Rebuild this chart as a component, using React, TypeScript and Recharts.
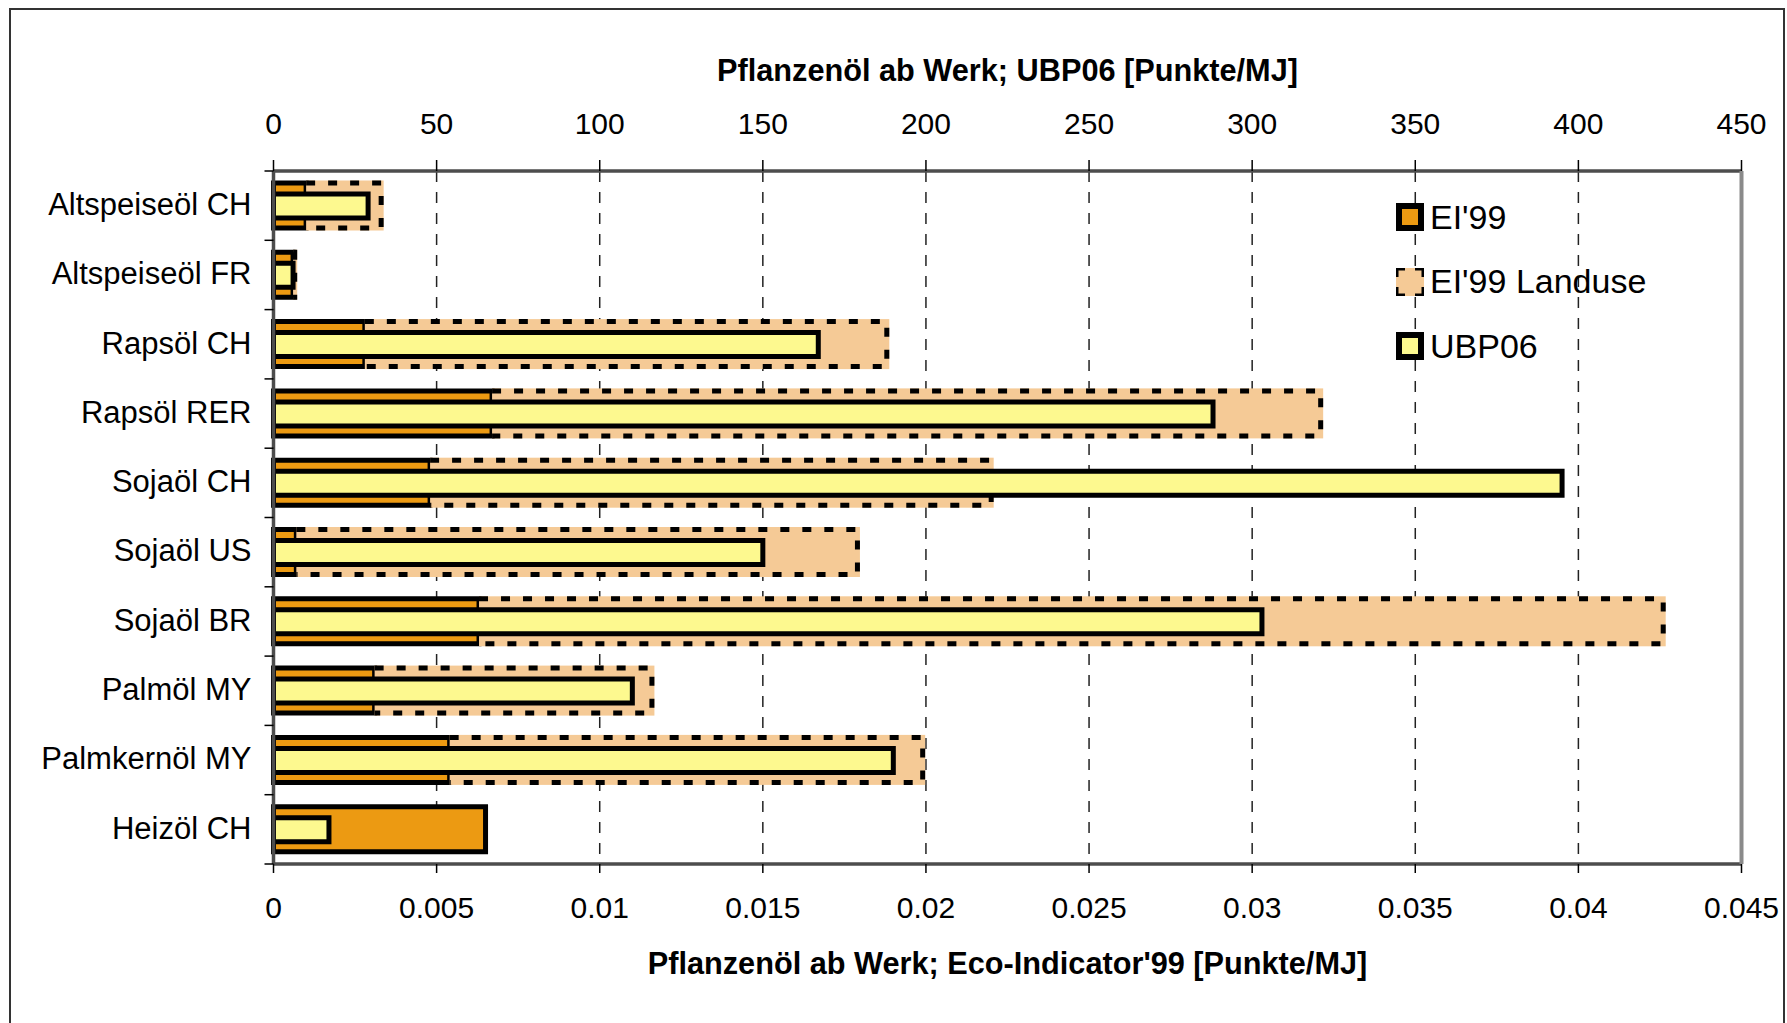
import {
	Bar,
	BarChart,
	CartesianGrid,
	Label,
	Legend,
	XAxis,
	YAxis
} from 'recharts'

const categories = [
	'Altspeiseöl CH',
	'Altspeiseöl FR',
	'Rapsöl CH',
	'Rapsöl RER',
	'Sojaöl CH',
	'Sojaöl US',
	'Sojaöl BR',
	'Palmöl MY',
	'Palmkernöl MY',
	'Heizöl CH'
]
const ei99 = [0.001, 0.0006, 0.0028, 0.0067, 0.0048, 0.0007, 0.0063, 0.0031, 0.0054, 0.0065]
const ei99Landuse = [0.0023, 0.00005, 0.016, 0.0254, 0.0172, 0.0172, 0.0363, 0.0085, 0.0145, 0]
const ubp06 = [29, 6, 167, 288, 395, 150, 303, 110, 190, 17]

const eiTicks = [0, 0.005, 0.01, 0.015, 0.02, 0.025, 0.03, 0.035, 0.04, 0.045]
const ubpTicks = [0, 50, 100, 150, 200, 250, 300, 350, 400, 450]

const data = categories.map((name, i) => ({
	name,
	ei: ei99[i],
	landuse: ei99Landuse[i],
	ubp: ubp06[i]
}))

const FONT = '"Liberation Sans", Arial, sans-serif'
const ORANGE = '#ec9a12'
const PEACH = '#f5ca96'
const YELLOW = '#fdf98f'
const AXIS = '#4d4d4d'
const PLOT_H = 693
const BAND = PLOT_H / categories.length

function CategoryTick(props: any) {
	const { x, y, payload, index } = props
	const half = BAND / 2
	return (
		<g>
			<text x={x} y={y} dy='0.3em' textAnchor='end' fontSize={31} fill='#000' fontFamily={FONT}>
				{payload.value}
			</text>
			<line x1={x + 13} x2={x + 22} y1={y - half} y2={y - half} stroke='#000' strokeWidth={1.5} />
			{index === categories.length - 1 && (
				<line x1={x + 13} x2={x + 22} y1={y + half} y2={y + half} stroke='#000' strokeWidth={1.5} />
			)}
		</g>
	)
}

function LanduseShape(props: any) {
	const { x, y, width, height } = props
	if (!width || width <= 0) return null
	const sw = 5
	return (
		<g>
			<rect x={x} y={y - sw / 2} width={width + sw / 2} height={height + sw} fill={PEACH} />
			<path
				d={`M${x},${y} H${x + width} V${y + height} H${x}`}
				fill='none'
				stroke='#000'
				strokeWidth={sw}
				strokeDasharray='9 13'
			/>
		</g>
	)
}

function LegendIcon({ kind }: { kind: string }) {
	if (kind === 'landuse') {
		return (
			<svg width={28} height={28}>
				<rect x={0} y={0} width={28} height={28} fill={PEACH} />
				<path d='M0,9 V0 H9 M19,0 H28 V9 M28,19 V28 H19 M9,28 H0 V19' fill='none' stroke='#000' strokeWidth={5} />
			</svg>
		)
	}
	return (
		<svg width={28} height={28}>
			<rect x={3} y={3} width={22} height={22} fill={kind === 'ei' ? ORANGE : YELLOW} stroke='#000' strokeWidth={6} />
		</svg>
	)
}

function renderLegend(props: any) {
	const { payload = [] } = props
	return (
		<div style={{ fontFamily: FONT, fontSize: 34, color: '#000' }}>
			{payload.map((entry: any) => (
				<div key={entry.value} style={{ display: 'flex', alignItems: 'center', height: 64.5 }}>
					<LegendIcon kind={entry.dataKey} />
					<span style={{ marginLeft: 6 }}>{entry.value}</span>
				</div>
			))}
		</div>
	)
}

export default function App() {
	return (
		<div style={{ position: 'absolute', left: 0, top: 0, width: 1787, height: 1023, overflow: 'hidden', background: '#fff' }}>
			<div
				style={{
					position: 'absolute',
					left: 9,
					top: 8,
					width: 1776,
					height: 1015,
					boxSizing: 'border-box',
					borderTop: '2px solid #333',
					borderLeft: '2px solid #333',
					borderRight: '2px solid #333'
				}}
			/>
			<div style={{ position: 'absolute', left: 0, top: 0 }}>
				<BarChart
					width={1787}
					height={1023}
					data={data}
					layout='vertical'
					margin={{ top: 54, right: 44.5, bottom: 44, left: 23.5 }}
					style={{ fontFamily: FONT }}
				>
					<CartesianGrid
						xAxisId='ei'
						yAxisId='cat'
						horizontal={false}
						stroke='#222'
						strokeWidth={1.5}
						strokeDasharray='11 10'
					/>
					<XAxis
						xAxisId='ei'
						type='number'
						orientation='bottom'
						domain={[0, 0.045]}
						ticks={eiTicks}
						interval={0}
						tickFormatter={(v: number) => String(+v.toFixed(3))}
						height={115}
						tickSize={9}
						tickMargin={24}
						tick={{ fontSize: 30, fill: '#000', fontFamily: FONT }}
						tickLine={{ stroke: '#000', strokeWidth: 1.5 }}
						axisLine={{ stroke: AXIS, strokeWidth: 3.5 }}
					>
						<Label
							value="Pflanzenöl ab Werk; Eco-Indicator'99 [Punkte/MJ]"
							position='insideBottom'
							offset={5}
							style={{ fontSize: 30.7, fontWeight: 'bold', fill: '#000', fontFamily: FONT }}
						/>
					</XAxis>
					<XAxis
						xAxisId='ubp'
						type='number'
						orientation='top'
						domain={[0, 450]}
						ticks={ubpTicks}
						interval={0}
						height={117}
						tickSize={11}
						tickMargin={26}
						tick={{ fontSize: 30, fill: '#000', fontFamily: FONT }}
						tickLine={{ stroke: '#000', strokeWidth: 1.5 }}
						axisLine={{ stroke: AXIS, strokeWidth: 3.5 }}
					>
						<Label
							value='Pflanzenöl ab Werk; UBP06 [Punkte/MJ]'
							position='insideTop'
							offset={5}
							style={{ fontSize: 30.7, fontWeight: 'bold', fill: '#000', fontFamily: FONT }}
						/>
					</XAxis>
					<YAxis
						yAxisId='cat'
						type='category'
						dataKey='name'
						orientation='left'
						width={250}
						tickSize={0}
						tickMargin={22}
						tickLine={false}
						interval={0}
						tick={<CategoryTick />}
						axisLine={{ stroke: AXIS, strokeWidth: 3.5 }}
					/>
					<YAxis
						yAxisId='u'
						type='category'
						dataKey='name'
						orientation='right'
						width={1}
						tick={false}
						tickLine={false}
						axisLine={{ stroke: '#8a8a8a', strokeWidth: 4 }}
					/>
					<Bar
						name="EI'99"
						dataKey='ei'
						xAxisId='ei'
						yAxisId='cat'
						stackId='ei'
						barSize={45}
						fill={ORANGE}
						stroke='#000'
						strokeWidth={5}
						isAnimationActive={false}
					/>
					<Bar
						name="EI'99 Landuse"
						dataKey='landuse'
						xAxisId='ei'
						yAxisId='cat'
						stackId='ei'
						barSize={45}
						fill={PEACH}
						shape={<LanduseShape />}
						isAnimationActive={false}
					/>
					<Bar
						name='UBP06'
						dataKey='ubp'
						xAxisId='ubp'
						yAxisId='u'
						barSize={24}
						fill={YELLOW}
						stroke='#000'
						strokeWidth={5}
						isAnimationActive={false}
					/>
					<Legend
						layout='vertical'
						align='center'
						verticalAlign='middle'
						wrapperStyle={{ position: 'absolute', left: 1396, top: 185, width: 'auto', height: 'auto' }}
						content={renderLegend}
					/>
				</BarChart>
			</div>
		</div>
	)
}
